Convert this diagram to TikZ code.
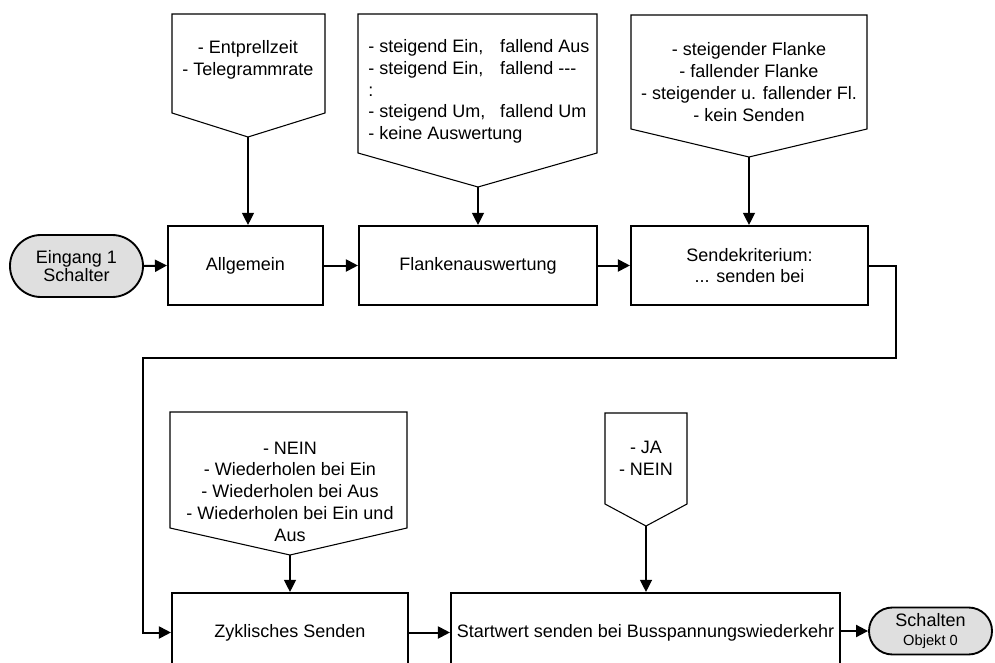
\documentclass[tikz,border=0pt]{standalone}
\usepackage{fontspec}
\setmainfont{Liberation Sans}
\usetikzlibrary{arrows.meta}
\begin{document}
\begin{tikzpicture}[x=0.75pt,y=-0.75pt,
  every node/.style={font=\fontsize{13.5}{16.3}\selectfont},
  box/.style={draw, line width=1.6pt, fill=white, inner sep=0pt, align=center},
  pill/.style={draw, line width=1.4pt, fill=gray!25, inner sep=0pt, align=center},
  callout/.style={draw, line width=0.8pt, line join=miter},
  flow/.style={line width=1.5pt, line join=miter, -{Triangle[length=9pt,width=9pt]}},
  feed/.style={line width=0.9pt, -{Triangle[length=9pt,width=9pt]}},
  txt/.style={inner sep=0pt, align=center}
]
\useasboundingbox (0,0) rectangle (995,663);
\clip (0,0) rectangle (995,663);

% callouts
\draw[callout] (172,14) -- (325,14) -- (325,113) -- (248,137) -- (172,113) -- cycle;
\coordinate (t1) at (248,137);
\node[txt] (c1) at (248,59.5) {- Entprellzeit\\- Telegrammrate};

\draw[callout] (358,14) -- (597,14) -- (597,153) -- (478,187) -- (358,153) -- cycle;
\coordinate (t2) at (478,187);
\node[txt, anchor=west, align=left] (c2) at (368,91.5) {\makebox[99pt][l]{- steigend Ein,}fallend Aus\\\makebox[99pt][l]{- steigend Ein,}fallend -{}-{}-\\:\\\makebox[99pt][l]{- steigend Um,}fallend Um\\- keine Auswertung};

\draw[callout] (631,15) -- (867,15) -- (867,129) -- (749,157) -- (631,129) -- cycle;
\coordinate (t3) at (749,157);
\node[txt] (c3) at (749,82) {- steigender Flanke\\- fallender Flanke\\- steigender u. fallender Fl.\\- kein Senden};

\draw[callout] (170,412) -- (407,412) -- (407,528) -- (290,555) -- (170,528) -- cycle;
\coordinate (t4) at (290,555);
\node[txt] (c4) at (290,491.5) {- NEIN\\- Wiederholen bei Ein\\- Wiederholen bei Aus\\- Wiederholen bei Ein und\\Aus};

\draw[callout] (605,413) -- (687,413) -- (687,504) -- (646,526) -- (605,504) -- cycle;
\coordinate (t5) at (646,526);
\node[txt] (c5) at (646,458) {- JA\\- NEIN};

% main boxes
\node[pill, minimum width=99.75pt, minimum height=46.5pt, rounded corners=23.25pt,
  font=\fontsize{13.5}{13.6}\selectfont] (eing) at (76.5,266) {Eingang 1\\Schalter};
\node[box, minimum width=116.25pt, minimum height=59.25pt] (allg) at (245.5,265.5) {Allgemein};
\node[box, minimum width=178.5pt, minimum height=59.25pt] (flank) at (478,265.5) {Flankenauswertung};
\node[box, minimum width=177.75pt, minimum height=59.25pt] (sende) at (749.5,265.5) {Sendekriterium:\\... senden bei};
\node[box, minimum width=177pt, minimum height=59.25pt] (zykl) at (290,632.5) {Zyklisches Senden};
\node[box, minimum width=291.75pt, minimum height=59.25pt] (start) at (645.5,632.5) {Startwert senden bei Busspannungswiederkehr};
\node[pill, minimum width=92.25pt, minimum height=35.25pt, rounded corners=17.6pt,
  font=\fontsize{13.5}{14.2}\selectfont] (schalt) at (930.5,631) {Schalten\\{\fontsize{11}{12}\selectfont Objekt 0}};

% route coordinates
\coordinate (r1) at (896,358);
\coordinate (r2) at (143,358);

% connectors
\draw[feed] (t1) -- (t1 |- allg.north);
\draw[feed] (t2) -- (t2 |- flank.north);
\draw[feed] (t3) -- (t3 |- sende.north);
\draw[feed] (t4) -- (t4 |- zykl.north);
\draw[feed] (t5) -- (t5 |- start.north);

\draw[flow] (eing.east) -- (allg.west);
\draw[flow] (allg.east) -- (flank.west);
\draw[flow] (flank.east) -- (sende.west);
\draw[flow] (sende.east) -| (r1) -- (r2) |- (zykl.west);
\draw[flow] (zykl.east) -- (start.west);
\draw[flow] (start.east |- schalt.west) -- (schalt.west);
\end{tikzpicture}
\end{document}
